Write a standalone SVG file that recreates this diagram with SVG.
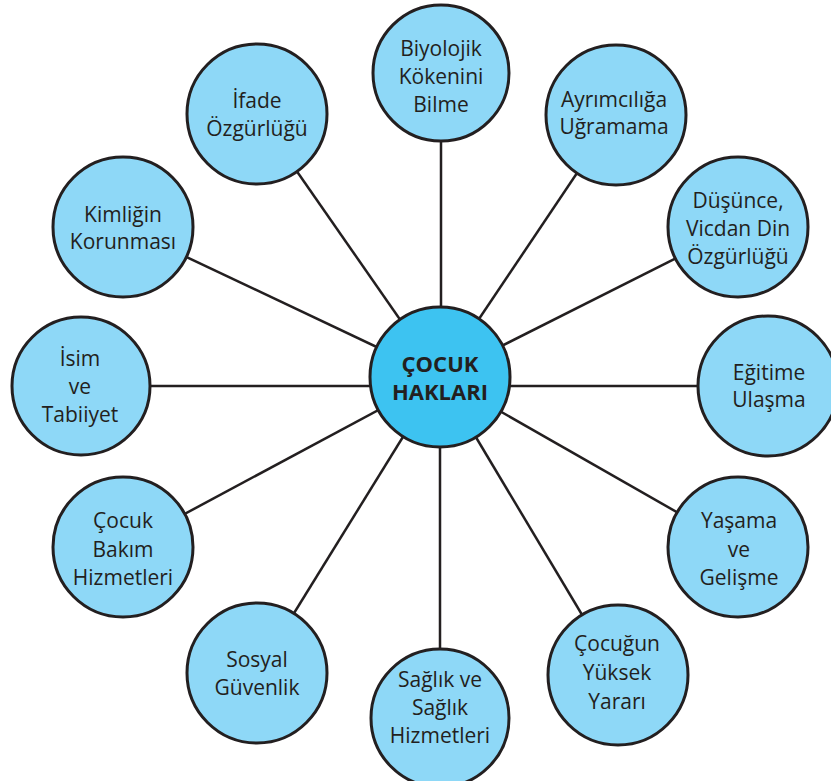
<svg xmlns="http://www.w3.org/2000/svg" width="831" height="781" viewBox="0 0 831 781">
<style>
.n{fill:#8ed8f7;stroke:#231f20;stroke-width:3}
.c{fill:#3dc3f1;stroke:#231f20;stroke-width:3}
.t{font-family:"Open Sans","Noto Sans",sans-serif;font-size:21px;fill:#231f20;text-anchor:middle}
.b{font-family:"Open Sans","Noto Sans",sans-serif;font-size:22px;font-weight:bold;fill:#231f20;text-anchor:middle}
.l{stroke:#231f20;stroke-width:2.5;fill:none}
</style>
<rect width="831" height="781" fill="#ffffff"/>
<g id="connectors">
<line class="l" x1="441" y1="73" x2="441" y2="377"/>
<line class="l" x1="616" y1="115" x2="440" y2="377"/>
<line class="l" x1="738" y1="227" x2="440" y2="377"/>
<line class="l" x1="768" y1="386" x2="440" y2="386"/>
<line class="l" x1="738" y1="547" x2="440" y2="377"/>
<line class="l" x1="618" y1="675" x2="440" y2="377"/>
<line class="l" x1="440" y1="718" x2="440" y2="377"/>
<line class="l" x1="257" y1="673" x2="440" y2="377"/>
<line class="l" x1="123" y1="547" x2="440" y2="377"/>
<line class="l" x1="81" y1="386" x2="440" y2="386"/>
<line class="l" x1="123" y1="227" x2="440" y2="377"/>
<line class="l" x1="257" y1="114" x2="440" y2="377"/>
</g>
<g id="center">
<circle class="c" cx="440" cy="377" r="70"/>
<text class="b" x="440" y="372">ÇOCUK</text>
<text class="b" x="440" y="400">HAKLARI</text>
</g>
<g id="biyolojik">
<circle class="n" cx="441" cy="73" r="68"/>
<text class="t" x="441" y="56">Biyolojik</text>
<text class="t" x="441" y="84">Kökenini</text>
<text class="t" x="441" y="112">Bilme</text>
</g>
<g id="ayrimcilik">
<circle class="n" cx="616" cy="115" r="70"/>
<text class="t" x="614" y="107">Ayrımcılığa</text>
<text class="t" x="614" y="134">Uğramama</text>
</g>
<g id="dusunce">
<circle class="n" cx="738" cy="227" r="70"/>
<text class="t" x="738" y="208">Düşünce,</text>
<text class="t" x="738" y="236">Vicdan Din</text>
<text class="t" x="738" y="264">Özgürlüğü</text>
</g>
<g id="egitim">
<circle class="n" cx="768" cy="386" r="70"/>
<text class="t" x="769" y="380">Eğitime</text>
<text class="t" x="769" y="407">Ulaşma</text>
</g>
<g id="yasama">
<circle class="n" cx="738" cy="547" r="70"/>
<text class="t" x="739" y="528">Yaşama</text>
<text class="t" x="739" y="557">ve</text>
<text class="t" x="739" y="585">Gelişme</text>
</g>
<g id="cocugun">
<circle class="n" cx="618" cy="675" r="70"/>
<text class="t" x="617" y="651">Çocuğun</text>
<text class="t" x="617" y="680">Yüksek</text>
<text class="t" x="617" y="709">Yararı</text>
</g>
<g id="saglik">
<circle class="n" cx="440" cy="718" r="69"/>
<text class="t" x="440" y="687">Sağlık ve</text>
<text class="t" x="440" y="715">Sağlık</text>
<text class="t" x="440" y="743">Hizmetleri</text>
</g>
<g id="sosyal">
<circle class="n" cx="257" cy="673" r="70"/>
<text class="t" x="257" y="667">Sosyal</text>
<text class="t" x="257" y="695">Güvenlik</text>
</g>
<g id="bakim">
<circle class="n" cx="123" cy="547" r="70"/>
<text class="t" x="123" y="528">Çocuk</text>
<text class="t" x="123" y="557">Bakım</text>
<text class="t" x="123" y="585">Hizmetleri</text>
</g>
<g id="isim">
<circle class="n" cx="81" cy="386" r="69"/>
<text class="t" x="80" y="366">İsim</text>
<text class="t" x="80" y="394">ve</text>
<text class="t" x="80" y="422">Tabiiyet</text>
</g>
<g id="kimlik">
<circle class="n" cx="123" cy="227" r="70"/>
<text class="t" x="123" y="222">Kimliğin</text>
<text class="t" x="123" y="249">Korunması</text>
</g>
<g id="ifade">
<circle class="n" cx="257" cy="114" r="70"/>
<text class="t" x="257" y="108">İfade</text>
<text class="t" x="257" y="136">Özgürlüğü</text>
</g>
</svg>
